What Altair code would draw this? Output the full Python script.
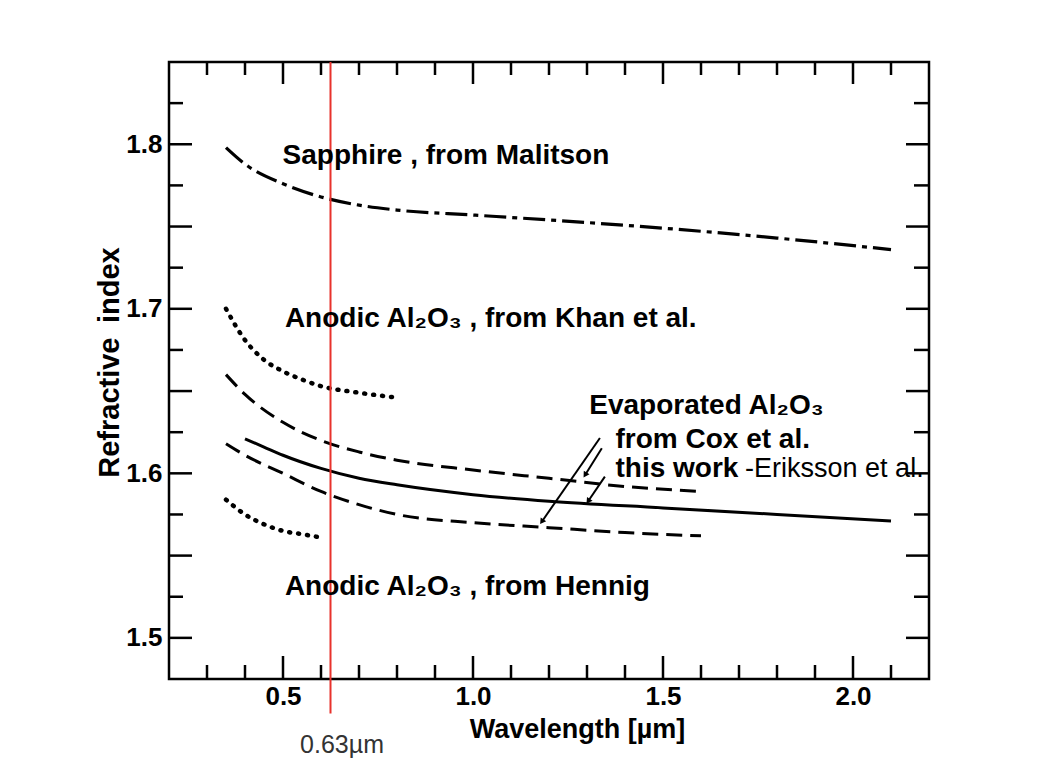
import math
import altair as alt
import pandas as pd

# ---------------- data ----------------
sapphire_wl = [0.35, 0.40, 0.50, 0.60, 0.70, 0.80, 1.00, 1.20, 1.50, 1.80, 2.10]
sapphire_n = [1.798, 1.788, 1.776, 1.768, 1.763, 1.760, 1.757, 1.754, 1.749, 1.743, 1.736]

khan_wl = [0.35, 0.40, 0.45, 0.50, 0.55, 0.60, 0.70, 0.80]
khan_n = [1.700, 1.681, 1.669, 1.662, 1.657, 1.653, 1.649, 1.646]

cox_upper_wl = [0.35, 0.40, 0.50, 0.60, 0.70, 0.80, 1.00, 1.20, 1.40, 1.60]
cox_upper_n = [1.660, 1.648, 1.631, 1.620, 1.613, 1.608, 1.602, 1.597, 1.592, 1.589]

this_work_wl = [0.40, 0.45, 0.50, 0.60, 0.70, 0.80, 1.00, 1.20, 1.50, 1.80, 2.10]
this_work_n = [1.621, 1.616, 1.611, 1.603, 1.597, 1.593, 1.587, 1.583, 1.579, 1.575, 1.571]

cox_lower_wl = [0.35, 0.40, 0.50, 0.60, 0.70, 0.80, 1.00, 1.20, 1.40, 1.60]
cox_lower_n = [1.618, 1.611, 1.600, 1.589, 1.581, 1.575, 1.570, 1.567, 1.564, 1.562]

hennig_wl = [0.35, 0.40, 0.45, 0.50, 0.55, 0.60]
hennig_n = [1.584, 1.575, 1.569, 1.565, 1.563, 1.561]

# tick values
x_major = [0.5, 1.0, 1.5, 2.0]
x_minor = [0.3, 0.4, 0.6, 0.7, 0.8, 0.9, 1.1, 1.2, 1.3, 1.4, 1.6, 1.7, 1.8, 1.9, 2.1]
y_labels = [1.5, 1.6, 1.7, 1.8]
y_major = [1.5, 1.55, 1.6, 1.65, 1.7, 1.75, 1.8]
y_minor = [1.525, 1.575, 1.625, 1.675, 1.725, 1.775, 1.825]

# annotations (bold)
label_text = ["Sapphire , from Malitson", "Anodic Al\u2082O\u2083 , from Khan et al.",
              "Evaporated Al\u2082O\u2083", "from Cox et al.", "this work",
              "Anodic Al\u2082O\u2083 , from Hennig"]
label_wl = [0.499, 0.505, 1.306, 1.375, 1.375, 0.505]
label_n = [1.7878, 1.6888, 1.6361, 1.6152, 1.5975, 1.526]

# regular annotation
note_text = ["-Eriksson et al."]
note_wl = [1.716]
note_n = [1.5975]

# arrows: start -> end
arrow_wl = [1.334, 1.339, 1.347]
arrow_n = [1.6215, 1.6152, 1.598]
arrow_wl2 = [1.181, 1.295, 1.303]
arrow_n2 = [1.5706, 1.599, 1.583]

# red marker line at 0.63 um
red_wl = [0.625]
red_n_top = [1.85]
red_n_bottom = [1.454]
red_label = ["0.63\u00b5m"]
red_label_wl = [0.545]
red_label_n = [1.430]

# ---------------- layout ----------------
W, H = 760, 617
XDOM = [0.2, 2.2]
YDOM = [1.475, 1.85]
FONT = "Liberation Sans"

xscale = alt.Scale(domain=XDOM, nice=False, zero=False)
yscale = alt.Scale(domain=YDOM, nice=False, zero=False)

xaxis = alt.Axis(values=x_major, format=".1f", ticks=False, domain=False, grid=False,
                 labelFont=FONT, labelFontSize=26, labelFontWeight="bold", labelColor="black",
                 labelPadding=4, title="Wavelength [\u00b5m]", titleFont=FONT, titleFontSize=27,
                 titleFontWeight="bold", titleColor="black", titleX=408, titleY=58,
                 titleAlign="center", titleBaseline="alphabetic")
yaxis = alt.Axis(values=y_labels, format=".1f", ticks=False, domain=False, grid=False,
                 labelFont=FONT, labelFontSize=26, labelFontWeight="bold", labelColor="black",
                 labelPadding=7, title="Refractive\u2002index", titleFont=FONT, titleFontSize=29,
                 titleFontWeight="bold", titleColor="black", titleAngle=270, titleX=-60, titleY=300,
                 titleAlign="center", titleBaseline="middle")


def X(f):
    return alt.X(f, type="quantitative", scale=xscale, axis=xaxis)


def Y(f):
    return alt.Y(f, type="quantitative", scale=yscale, axis=yaxis)


def curve(wl, n, **mark):
    df = pd.DataFrame({"wl": wl, "n": n})
    return alt.Chart(df).mark_line(color="black", interpolate="monotone", **mark).encode(
        x=X("wl"), y=Y("n"))


layers = []
layers.append(curve(sapphire_wl, sapphire_n, strokeWidth=3.2, strokeDash=[22, 6, 5, 6]))
layers.append(curve(khan_wl, khan_n, strokeWidth=4.5, strokeDash=[1, 8], strokeCap="round"))
layers.append(curve(cox_upper_wl, cox_upper_n, strokeWidth=3, strokeDash=[16, 8]))
layers.append(curve(this_work_wl, this_work_n, strokeWidth=3))
layers.append(curve(cox_lower_wl, cox_lower_n, strokeWidth=3, strokeDash=[16, 8]))
layers.append(curve(hennig_wl, hennig_n, strokeWidth=4.5, strokeDash=[1, 8], strokeCap="round"))


def xticks(vals, length, bottom):
    df = pd.DataFrame({"wl": vals})
    y0 = H if bottom else 0
    y1 = H - length if bottom else length
    return alt.Chart(df).mark_rule(color="black", strokeWidth=2.5).encode(
        x=X("wl"), y=alt.value(y0), y2=alt.value(y1))


def yticks(vals, length, left):
    df = pd.DataFrame({"n": vals})
    x0 = 0 if left else W
    x1 = length if left else W - length
    return alt.Chart(df).mark_rule(color="black", strokeWidth=2.5).encode(
        y=Y("n"), x=alt.value(x0), x2=alt.value(x1))


layers += [xticks(x_minor, 14, True), xticks(x_major, 23, True),
           xticks(x_minor, 13, False), xticks(x_major, 22, False),
           yticks(y_minor, 14, True), yticks(y_major, 23, True),
           yticks(y_minor, 15, False), yticks(y_major, 23, False)]

# red line
red_df = pd.DataFrame({"wl": red_wl, "n": red_n_top, "n2": red_n_bottom})
layers.append(alt.Chart(red_df).mark_rule(color="#e8322c", strokeWidth=2).encode(
    x=X("wl"), y=Y("n"), y2=alt.Y2("n2")))
red_lab_df = pd.DataFrame({"wl": red_label_wl, "n": red_label_n, "txt": red_label})
layers.append(alt.Chart(red_lab_df).mark_text(align="left", baseline="alphabetic", font=FONT,
                                               fontSize=25, color="#333333").encode(
    x=X("wl"), y=Y("n"), text="txt:N"))

# annotations
ann_df = pd.DataFrame({"wl": label_wl, "n": label_n, "txt": label_text})
layers.append(alt.Chart(ann_df).mark_text(align="left", baseline="alphabetic", font=FONT,
                                          fontSize=28, fontWeight="bold", color="black").encode(
    x=X("wl"), y=Y("n"), text="txt:N"))
note_df = pd.DataFrame({"wl": note_wl, "n": note_n, "txt": note_text})
layers.append(alt.Chart(note_df).mark_text(align="left", baseline="alphabetic", font=FONT,
                                           fontSize=27, color="black").encode(
    x=X("wl"), y=Y("n"), text="txt:N"))

# arrows
sx = W / (XDOM[1] - XDOM[0])
sy = H / (YDOM[1] - YDOM[0])
angles = []
for a, b, c, d in zip(arrow_wl, arrow_n, arrow_wl2, arrow_n2):
    dxp = (c - a) * sx
    dyp = -(d - b) * sy
    angles.append(math.degrees(math.atan2(dxp, -dyp)) % 360)
arr_df = pd.DataFrame({"wl": arrow_wl, "n": arrow_n, "wl2": arrow_wl2, "n2": arrow_n2, "ang": angles})
layers.append(alt.Chart(arr_df).mark_rule(color="black", strokeWidth=2).encode(
    x=X("wl"), y=Y("n"), x2=alt.X2("wl2"), y2=alt.Y2("n2")))
layers.append(alt.Chart(arr_df).mark_point(shape="triangle-up", filled=True, size=45, color="black",
                                           opacity=1).encode(
    x=X("wl2"), y=Y("n2"), angle=alt.Angle("ang:Q", scale=None)))

chart = alt.layer(*layers).properties(
    width=W, height=H,
    autosize=alt.AutoSizeParams(type="none"),
    padding={"left": 169, "top": 62, "right": 111, "bottom": 85},
    background="white",
).configure_view(stroke="black", strokeWidth=2.5)

chart.save("out.html", embed_options={"renderer": "svg", "actions": False})
